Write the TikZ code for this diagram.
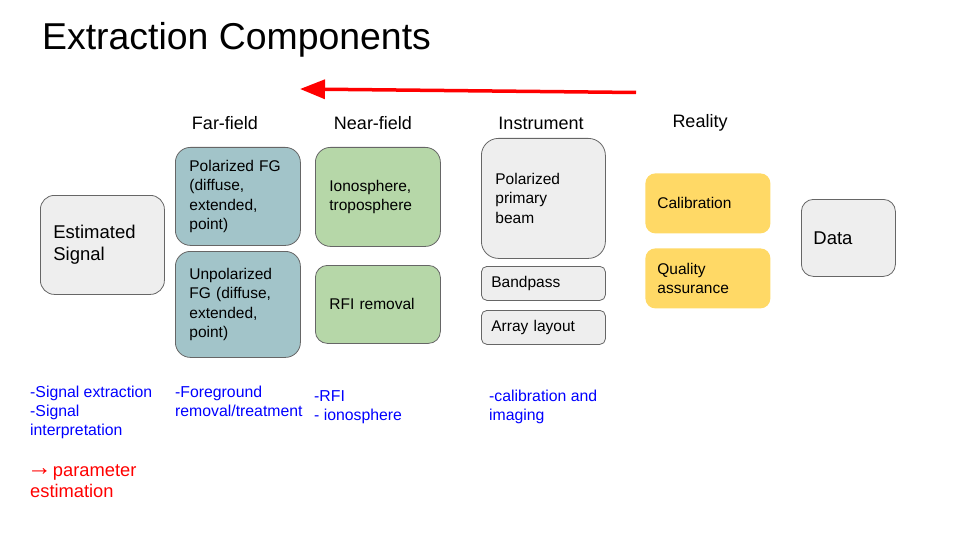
\documentclass[tikz,border=0pt]{standalone}
\usepackage{fontspec}
\usepackage{graphicx}
\setmainfont{Liberation Sans}
\usetikzlibrary{arrows.meta}
\definecolor{fgteal}{HTML}{A2C4C9}
\definecolor{nfgreen}{HTML}{B6D7A8}
\definecolor{realyellow}{HTML}{FFD966}
\definecolor{boxgray}{HTML}{EEEEEE}
\definecolor{edgegray}{HTML}{666666}
\definecolor{notesblue}{HTML}{0000FF}
\definecolor{arrowred}{HTML}{FF0000}
\tikzset{
  box/.style={anchor=north west, draw=edgegray, line width=0.8pt, align=left,
    inner xsep=14pt, inner ysep=0pt, font=\fontsize{15.5}{19.5}\selectfont},
  bigtext/.style={font=\fontsize{18.5}{22}\selectfont},
  header/.style={anchor=base, font=\fontsize{18}{22}\selectfont},
  note/.style={anchor=base west, align=left, text=notesblue, inner sep=0pt,
    font=\fontsize{15.8}{19}\selectfont},
}
\begin{document}
\begin{tikzpicture}[x=1pt,y=-1pt]
\useasboundingbox (0,0) rectangle (960,540);

% title
\node[anchor=base west, inner sep=0pt, font=\fontsize{37.4}{42}\selectfont] (title) at (42,50) {Extraction Components};

% direction arrow
\coordinate (arrS) at (636,92.5);
\coordinate (arrE) at (300,89);
\draw[arrowred, line width=3.5pt, -{Triangle[length=25pt,width=19pt]}] (arrS) -- (arrE);

% headers
\node[header] (hfar) at (225,129.5) {Far-field};
\node[header] (hnear) at (373,129.5) {Near-field};
\node[header] (hinst) at (541,129.5) {Instrument};
\node[header] (hreal) at (700,127.5) {Reality};

% boxes
\node[box, bigtext, fill=boxgray, rounded corners=14pt, inner xsep=13pt,
  minimum height=99pt, text width=98pt] (est) at (40,195) {Estimated\\Signal};

\node[box, fill=fgteal, rounded corners=15pt, minimum height=98pt, text width=97pt]
  (pfg) at (175,147) {Polarized FG\\(diffuse,\\extended,\\point)};
\node[box, fill=fgteal, rounded corners=15pt, minimum height=106pt, text width=97pt]
  (ufg) at (175,251) {Unpolarized\\FG (diffuse,\\extended,\\point)};

\node[box, fill=nfgreen, rounded corners=15pt, minimum height=99pt, text width=97pt]
  (iono) at (315,147) {Ionosphere,\\troposphere};
\node[box, fill=nfgreen, rounded corners=12pt, minimum height=78pt, text width=97pt]
  (rfi) at (315,265) {RFI removal};

\node[box, fill=boxgray, rounded corners=17pt, minimum height=120pt, text width=96pt]
  (ppb) at (481,138) {Polarized\\primary\\beam};
\node[box, fill=boxgray, rounded corners=5.5pt, inner xsep=10pt, minimum height=34pt, text width=104pt]
  (bp) at (481,266) {Bandpass};
\node[box, fill=boxgray, rounded corners=5.5pt, inner xsep=10pt, minimum height=34pt, text width=104pt]
  (al) at (481,310) {Array layout};

\node[box, draw=none, fill=realyellow, rounded corners=10pt, inner xsep=12pt, minimum height=60pt, text width=101pt]
  (cal) at (645,173) {Calibration};
\node[box, draw=none, fill=realyellow, rounded corners=10pt, inner xsep=12pt, minimum height=60pt, text width=101pt]
  (qa) at (645,248) {Quality\\assurance};

\node[box, bigtext, fill=boxgray, rounded corners=12pt, inner xsep=12pt, minimum height=77pt, text width=70pt]
  (data) at (801,199) {Data};

% notes (anchored at the baseline of their last line)
\node[note] (n1) at (30,435) {-Signal extraction\\-Signal\\interpretation};
\node[note] (n2) at (175,416) {-Foreground\\removal/treatment};
\node[note] (n3) at (314,420) {-RFI\\- ionosphere};
\node[note] (n4) at (489,420) {-calibration and\\imaging};
\node[note, text=arrowred, font=\fontsize{18.3}{21.5}\selectfont] (n5) at (30,497.5)
  {\hspace{-3pt}\raisebox{1pt}{\scalebox{1.35}{→}}\hspace{-4pt} parameter\\estimation};
\end{tikzpicture}
\end{document}
